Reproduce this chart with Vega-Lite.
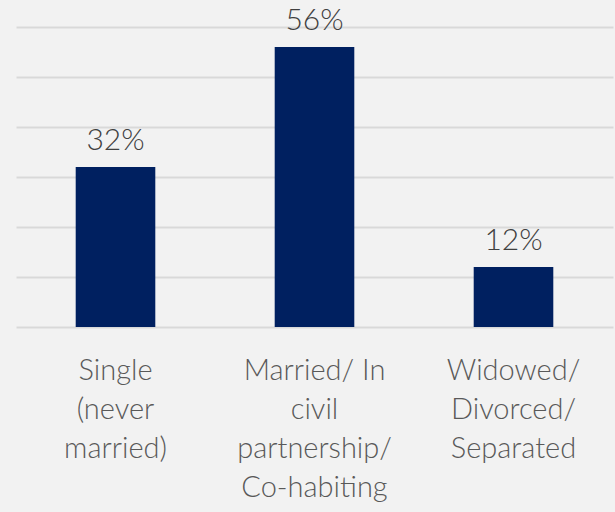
{
  "$schema": "https://vega.github.io/schema/vega-lite/v6.json",
  "width": 597,
  "height": 300,
  "autosize": {"type": "none"},
  "padding": {"left": 16, "top": 27, "right": 2, "bottom": 185},
  "background": "#f2f2f2",
  "config": {"view": {"stroke": null}, "font": "Lato"},
  "data": {"values": [
    {"status": "Single|(never|married)", "pct": 32},
    {"status": "Married/ In|civil|partnership/|Co-habiting", "pct": 56},
    {"status": "Widowed/|Divorced/|Separated", "pct": 12}
  ]},
  "encoding": {
    "x": {"field": "status", "type": "nominal", "sort": null,
      "scale": {"paddingInner": 0.6, "paddingOuter": 0.3},
      "axis": {"title": null, "domain": false, "ticks": false, "labelAngle": 0,
        "labelExpr": "split(datum.label, '|')", "labelFontSize": 29, "labelLineHeight": 39,
        "labelColor": "#595959", "labelPadding": 29, "labelFontWeight": 300, "labelLimit": 300}},
    "y": {"field": "pct", "type": "quantitative",
      "scale": {"domain": [0, 60]},
      "axis": {"title": null, "labels": false, "ticks": false, "domain": false,
        "values": [0, 10, 20, 30, 40, 50, 60], "gridColor": "#d9d9d9", "gridWidth": 2}}
  },
  "layer": [
    {"mark": {"type": "bar", "color": "#002060"}},
    {"mark": {"type": "text", "dy": -17, "baseline": "alphabetic", "fontSize": 30, "color": "#404040", "fontWeight": 300,
      "text": {"expr": "datum.pct + '%'"}}}
  ]
}
